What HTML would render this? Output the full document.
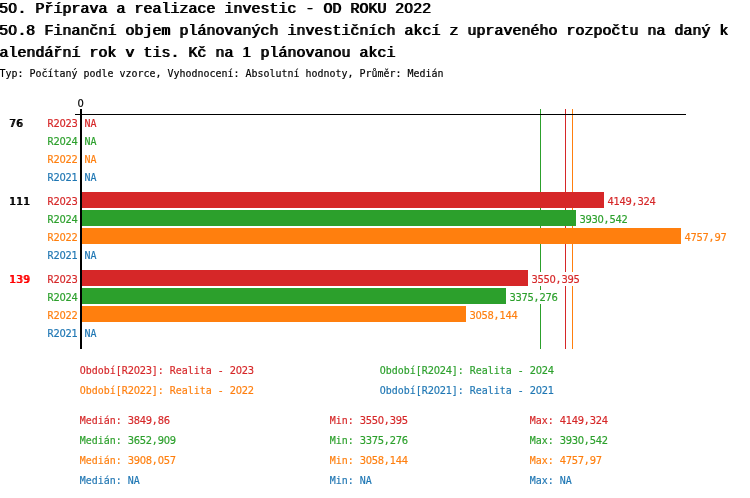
<!DOCTYPE html>
<html lang="cs"><head><meta charset="utf-8"><title>50.8 Finanční objem plánovaných investičních akcí</title>
<style>
html,body{margin:0;padding:0;background:#fff;}
svg{display:block;}
text{white-space:pre;font-family:"DejaVu Sans Mono","Liberation Mono",monospace;}
.s{font-size:11px;stroke-width:0.18px;}
.t{stroke-width:0;font-family:"Liberation Mono","DejaVu Sans Mono",monospace;font-size:14px;}
.t .d{font-family:"Liberation Sans","DejaVu Sans",sans-serif;}
.d{font-family:"DejaVu Sans","Liberation Sans",sans-serif;}
</style></head><body>
<svg width="750" height="498" viewBox="0 0 750 498">
<defs><filter id="st" x="-5%" y="-20%" width="110%" height="140%"><feOffset dx="0.55" dy="0" result="o"/><feMerge><feMergeNode in="SourceGraphic"/><feMergeNode in="o"/></feMerge></filter><filter id="sm" x="-5%" y="-20%" width="110%" height="140%"><feOffset dx="1" dy="0" result="o"/><feMerge><feMergeNode in="SourceGraphic"/><feMergeNode in="o"/></feMerge></filter></defs>
<rect width="750" height="498" fill="#fff"/>
<g shape-rendering="crispEdges">
<g filter="url(#st)"><text class="t" transform="translate(-1,13) scale(1.0713,1)" x="0 8.4 16.8 25.2 33.6 42.01 50.41 58.81 67.21 75.61 84.01 92.41 100.81 109.21 117.61 126.02 134.42 142.82 151.22 159.62 168.02 176.42 184.82 193.22 201.62 210.03 218.43 226.83 235.23 243.63 252.03 260.43 268.83 277.23 285.63 294.04 302.44 310.84 319.24 327.64 336.04 344.44 352.84 361.24 369.64 378.05 386.45 394.85" fill="#000" stroke="#000"><tspan class="d">50</tspan>. Příprava a realizace investic - OD ROKU <tspan class="d">2022</tspan></text></g>
<g filter="url(#st)"><text class="t" transform="translate(-1,35) scale(1.0713,1)" x="0 8.4 16.8 25.2 33.6 42.01 50.41 58.81 67.21 75.61 84.01 92.41 100.81 109.21 117.61 126.02 134.42 142.82 151.22 159.62 168.02 176.42 184.82 193.22 201.62 210.03 218.43 226.83 235.23 243.63 252.03 260.43 268.83 277.23 285.63 294.04 302.44 310.84 319.24 327.64 336.04 344.44 352.84 361.24 369.64 378.05 386.45 394.85 403.25 411.65 420.05 428.45 436.85 445.25 453.65 462.06 470.46 478.86 487.26 495.66 504.06 512.46 520.86 529.26 537.66 546.07 554.47 562.87 571.27 579.67 588.07 596.47 604.87 613.27 621.67 630.08 638.48 646.88 655.28 663.68 672.08" fill="#000" stroke="#000"><tspan class="d">50</tspan>.<tspan class="d">8</tspan> Finanční objem plánovaných investičních akcí z upraveného rozpočtu na daný k</text></g>
<g filter="url(#st)"><text class="t" transform="translate(-1,57) scale(1.0713,1)" x="0 8.4 16.8 25.2 33.6 42.01 50.41 58.81 67.21 75.61 84.01 92.41 100.81 109.21 117.61 126.02 134.42 142.82 151.22 159.62 168.02 176.42 184.82 193.22 201.62 210.03 218.43 226.83 235.23 243.63 252.03 260.43 268.83 277.23 285.63 294.04 302.44 310.84 319.24 327.64 336.04 344.44 352.84 361.24" fill="#000" stroke="#000">alendářní rok v tis. Kč na <tspan class="d">1</tspan> plánovanou akci</text></g>
<text class="s" transform="translate(-0.5,77) scale(0.906,1)" x="0 6.62 13.25 19.87 26.49 33.11 39.74 46.36 52.98 59.6 66.23 72.85 79.47 86.09 92.72 99.34 105.96 112.58 119.21 125.83 132.45 139.07 145.7 152.32 158.94 165.56 172.19 178.81 185.43 192.05 198.68 205.3 211.92 218.54 225.17 231.79 238.41 245.03 251.66 258.28 264.9 271.52 278.15 284.77 291.39 298.01 304.64 311.26 317.88 324.5 331.13 337.75 344.37 350.99 357.62 364.24 370.86 377.48 384.11 390.73 397.35 403.97 410.6 417.22 423.84 430.46 437.09 443.71 450.33 456.95 463.58 470.2 476.82 483.44" fill="#000" stroke="#000">Typ: Počítaný podle vzorce, Vyhodnocení: Absolutní hodnoty, Průměr: Medián</text>
<text class="s" transform="translate(77.5,107) scale(0.906,1)" x="0" fill="#000" stroke="#000"><tspan class="d">0</tspan></text>
<rect x="540" y="109" width="1" height="240" fill="#2ca02c"/>
<rect x="565" y="109" width="1" height="240" fill="#d62728"/>
<rect x="572" y="109" width="1" height="240" fill="#ff7f0e"/>
<rect x="75" y="114" width="611" height="1" fill="#000"/>
<g filter="url(#sm)"><text class="s" transform="translate(9,127) scale(0.906,1)" x="0 7.73" fill="#000" stroke="#000"><tspan class="d">76</tspan></text></g>
<text class="s" transform="translate(47.6,127) scale(0.906,1)" x="0 6.62 13.25 19.87 26.49" fill="#d62728" stroke="#d62728">R<tspan class="d">2023</tspan></text>
<rect x="83" y="116" width="14" height="14" fill="#fff"/>
<text class="s" transform="translate(84.6,127) scale(0.906,1)" x="0 6.62" fill="#d62728" stroke="#d62728">NA</text>
<text class="s" transform="translate(47.6,145) scale(0.906,1)" x="0 6.62 13.25 19.87 26.49" fill="#2ca02c" stroke="#2ca02c">R<tspan class="d">2024</tspan></text>
<rect x="83" y="134" width="14" height="14" fill="#fff"/>
<text class="s" transform="translate(84.6,145) scale(0.906,1)" x="0 6.62" fill="#2ca02c" stroke="#2ca02c">NA</text>
<text class="s" transform="translate(47.6,163) scale(0.906,1)" x="0 6.62 13.25 19.87 26.49" fill="#ff7f0e" stroke="#ff7f0e">R<tspan class="d">2022</tspan></text>
<rect x="83" y="152" width="14" height="14" fill="#fff"/>
<text class="s" transform="translate(84.6,163) scale(0.906,1)" x="0 6.62" fill="#ff7f0e" stroke="#ff7f0e">NA</text>
<text class="s" transform="translate(47.6,181) scale(0.906,1)" x="0 6.62 13.25 19.87 26.49" fill="#1f77b4" stroke="#1f77b4">R<tspan class="d">2021</tspan></text>
<rect x="83" y="170" width="14" height="14" fill="#fff"/>
<text class="s" transform="translate(84.6,181) scale(0.906,1)" x="0 6.62" fill="#1f77b4" stroke="#1f77b4">NA</text>
<g filter="url(#sm)"><text class="s" transform="translate(9,205) scale(0.906,1)" x="0 7.73 15.45" fill="#000" stroke="#000"><tspan class="d">111</tspan></text></g>
<text class="s" transform="translate(47.6,205) scale(0.906,1)" x="0 6.62 13.25 19.87 26.49" fill="#d62728" stroke="#d62728">R<tspan class="d">2023</tspan></text>
<rect x="82" y="192" width="522" height="16" fill="#d62728"/>
<rect x="606" y="194" width="50" height="14" fill="#fff"/>
<text class="s" transform="translate(607.6,205) scale(0.906,1)" x="0 6.62 13.25 19.87 26.49 33.11 39.74 46.36" fill="#d62728" stroke="#d62728"><tspan class="d">4149</tspan>,<tspan class="d">324</tspan></text>
<text class="s" transform="translate(47.6,223) scale(0.906,1)" x="0 6.62 13.25 19.87 26.49" fill="#2ca02c" stroke="#2ca02c">R<tspan class="d">2024</tspan></text>
<rect x="82" y="210" width="494" height="16" fill="#2ca02c"/>
<rect x="578" y="212" width="50" height="14" fill="#fff"/>
<text class="s" transform="translate(579.6,223) scale(0.906,1)" x="0 6.62 13.25 19.87 26.49 33.11 39.74 46.36" fill="#2ca02c" stroke="#2ca02c"><tspan class="d">3930</tspan>,<tspan class="d">542</tspan></text>
<text class="s" transform="translate(47.6,241) scale(0.906,1)" x="0 6.62 13.25 19.87 26.49" fill="#ff7f0e" stroke="#ff7f0e">R<tspan class="d">2022</tspan></text>
<rect x="82" y="228" width="599" height="16" fill="#ff7f0e"/>
<rect x="683" y="230" width="44" height="14" fill="#fff"/>
<text class="s" transform="translate(684.6,241) scale(0.906,1)" x="0 6.62 13.25 19.87 26.49 33.11 39.74" fill="#ff7f0e" stroke="#ff7f0e"><tspan class="d">4757</tspan>,<tspan class="d">97</tspan></text>
<text class="s" transform="translate(47.6,259) scale(0.906,1)" x="0 6.62 13.25 19.87 26.49" fill="#1f77b4" stroke="#1f77b4">R<tspan class="d">2021</tspan></text>
<rect x="83" y="248" width="14" height="14" fill="#fff"/>
<text class="s" transform="translate(84.6,259) scale(0.906,1)" x="0 6.62" fill="#1f77b4" stroke="#1f77b4">NA</text>
<g filter="url(#sm)"><text class="s" transform="translate(9,283) scale(0.906,1)" x="0 7.73 15.45" fill="#ff0000" stroke="#ff0000"><tspan class="d">139</tspan></text></g>
<text class="s" transform="translate(47.6,283) scale(0.906,1)" x="0 6.62 13.25 19.87 26.49" fill="#d62728" stroke="#d62728">R<tspan class="d">2023</tspan></text>
<rect x="82" y="270" width="446" height="16" fill="#d62728"/>
<rect x="530" y="272" width="50" height="14" fill="#fff"/>
<text class="s" transform="translate(531.6,283) scale(0.906,1)" x="0 6.62 13.25 19.87 26.49 33.11 39.74 46.36" fill="#d62728" stroke="#d62728"><tspan class="d">3550</tspan>,<tspan class="d">395</tspan></text>
<text class="s" transform="translate(47.6,301) scale(0.906,1)" x="0 6.62 13.25 19.87 26.49" fill="#2ca02c" stroke="#2ca02c">R<tspan class="d">2024</tspan></text>
<rect x="82" y="288" width="424" height="16" fill="#2ca02c"/>
<rect x="508" y="290" width="50" height="14" fill="#fff"/>
<text class="s" transform="translate(509.6,301) scale(0.906,1)" x="0 6.62 13.25 19.87 26.49 33.11 39.74 46.36" fill="#2ca02c" stroke="#2ca02c"><tspan class="d">3375</tspan>,<tspan class="d">276</tspan></text>
<text class="s" transform="translate(47.6,319) scale(0.906,1)" x="0 6.62 13.25 19.87 26.49" fill="#ff7f0e" stroke="#ff7f0e">R<tspan class="d">2022</tspan></text>
<rect x="82" y="306" width="384" height="16" fill="#ff7f0e"/>
<rect x="468" y="308" width="50" height="14" fill="#fff"/>
<text class="s" transform="translate(469.6,319) scale(0.906,1)" x="0 6.62 13.25 19.87 26.49 33.11 39.74 46.36" fill="#ff7f0e" stroke="#ff7f0e"><tspan class="d">3058</tspan>,<tspan class="d">144</tspan></text>
<text class="s" transform="translate(47.6,337) scale(0.906,1)" x="0 6.62 13.25 19.87 26.49" fill="#1f77b4" stroke="#1f77b4">R<tspan class="d">2021</tspan></text>
<rect x="83" y="326" width="14" height="14" fill="#fff"/>
<text class="s" transform="translate(84.6,337) scale(0.906,1)" x="0 6.62" fill="#1f77b4" stroke="#1f77b4">NA</text>
<rect x="80" y="109" width="2" height="240" fill="#000"/>
<text class="s" transform="translate(79.7,374) scale(0.906,1)" x="0 6.62 13.25 19.87 26.49 33.11 39.74 46.36 52.98 59.6 66.23 72.85 79.47 86.09 92.72 99.34 105.96 112.58 119.21 125.83 132.45 139.07 145.7 152.32 158.94 165.56 172.19 178.81 185.43" fill="#d62728" stroke="#d62728">Období[R<tspan class="d">2023</tspan>]: Realita - <tspan class="d">2023</tspan></text>
<text class="s" transform="translate(379.7,374) scale(0.906,1)" x="0 6.62 13.25 19.87 26.49 33.11 39.74 46.36 52.98 59.6 66.23 72.85 79.47 86.09 92.72 99.34 105.96 112.58 119.21 125.83 132.45 139.07 145.7 152.32 158.94 165.56 172.19 178.81 185.43" fill="#2ca02c" stroke="#2ca02c">Období[R<tspan class="d">2024</tspan>]: Realita - <tspan class="d">2024</tspan></text>
<text class="s" transform="translate(79.7,394) scale(0.906,1)" x="0 6.62 13.25 19.87 26.49 33.11 39.74 46.36 52.98 59.6 66.23 72.85 79.47 86.09 92.72 99.34 105.96 112.58 119.21 125.83 132.45 139.07 145.7 152.32 158.94 165.56 172.19 178.81 185.43" fill="#ff7f0e" stroke="#ff7f0e">Období[R<tspan class="d">2022</tspan>]: Realita - <tspan class="d">2022</tspan></text>
<text class="s" transform="translate(379.7,394) scale(0.906,1)" x="0 6.62 13.25 19.87 26.49 33.11 39.74 46.36 52.98 59.6 66.23 72.85 79.47 86.09 92.72 99.34 105.96 112.58 119.21 125.83 132.45 139.07 145.7 152.32 158.94 165.56 172.19 178.81 185.43" fill="#1f77b4" stroke="#1f77b4">Období[R<tspan class="d">2021</tspan>]: Realita - <tspan class="d">2021</tspan></text>
<text class="s" transform="translate(79.7,424) scale(0.906,1)" x="0 6.62 13.25 19.87 26.49 33.11 39.74 46.36 52.98 59.6 66.23 72.85 79.47 86.09 92.72" fill="#d62728" stroke="#d62728">Medián: <tspan class="d">3849</tspan>,<tspan class="d">86</tspan></text>
<text class="s" transform="translate(329.7,424) scale(0.906,1)" x="0 6.62 13.25 19.87 26.49 33.11 39.74 46.36 52.98 59.6 66.23 72.85 79.47" fill="#d62728" stroke="#d62728">Min: <tspan class="d">3550</tspan>,<tspan class="d">395</tspan></text>
<text class="s" transform="translate(529.7,424) scale(0.906,1)" x="0 6.62 13.25 19.87 26.49 33.11 39.74 46.36 52.98 59.6 66.23 72.85 79.47" fill="#d62728" stroke="#d62728">Max: <tspan class="d">4149</tspan>,<tspan class="d">324</tspan></text>
<text class="s" transform="translate(79.7,444) scale(0.906,1)" x="0 6.62 13.25 19.87 26.49 33.11 39.74 46.36 52.98 59.6 66.23 72.85 79.47 86.09 92.72 99.34" fill="#2ca02c" stroke="#2ca02c">Medián: <tspan class="d">3652</tspan>,<tspan class="d">909</tspan></text>
<text class="s" transform="translate(329.7,444) scale(0.906,1)" x="0 6.62 13.25 19.87 26.49 33.11 39.74 46.36 52.98 59.6 66.23 72.85 79.47" fill="#2ca02c" stroke="#2ca02c">Min: <tspan class="d">3375</tspan>,<tspan class="d">276</tspan></text>
<text class="s" transform="translate(529.7,444) scale(0.906,1)" x="0 6.62 13.25 19.87 26.49 33.11 39.74 46.36 52.98 59.6 66.23 72.85 79.47" fill="#2ca02c" stroke="#2ca02c">Max: <tspan class="d">3930</tspan>,<tspan class="d">542</tspan></text>
<text class="s" transform="translate(79.7,464) scale(0.906,1)" x="0 6.62 13.25 19.87 26.49 33.11 39.74 46.36 52.98 59.6 66.23 72.85 79.47 86.09 92.72 99.34" fill="#ff7f0e" stroke="#ff7f0e">Medián: <tspan class="d">3908</tspan>,<tspan class="d">057</tspan></text>
<text class="s" transform="translate(329.7,464) scale(0.906,1)" x="0 6.62 13.25 19.87 26.49 33.11 39.74 46.36 52.98 59.6 66.23 72.85 79.47" fill="#ff7f0e" stroke="#ff7f0e">Min: <tspan class="d">3058</tspan>,<tspan class="d">144</tspan></text>
<text class="s" transform="translate(529.7,464) scale(0.906,1)" x="0 6.62 13.25 19.87 26.49 33.11 39.74 46.36 52.98 59.6 66.23 72.85" fill="#ff7f0e" stroke="#ff7f0e">Max: <tspan class="d">4757</tspan>,<tspan class="d">97</tspan></text>
<text class="s" transform="translate(79.7,484) scale(0.906,1)" x="0 6.62 13.25 19.87 26.49 33.11 39.74 46.36 52.98 59.6" fill="#1f77b4" stroke="#1f77b4">Medián: NA</text>
<text class="s" transform="translate(329.7,484) scale(0.906,1)" x="0 6.62 13.25 19.87 26.49 33.11 39.74" fill="#1f77b4" stroke="#1f77b4">Min: NA</text>
<text class="s" transform="translate(529.7,484) scale(0.906,1)" x="0 6.62 13.25 19.87 26.49 33.11 39.74" fill="#1f77b4" stroke="#1f77b4">Max: NA</text>
</g>
</svg>
</body></html>
